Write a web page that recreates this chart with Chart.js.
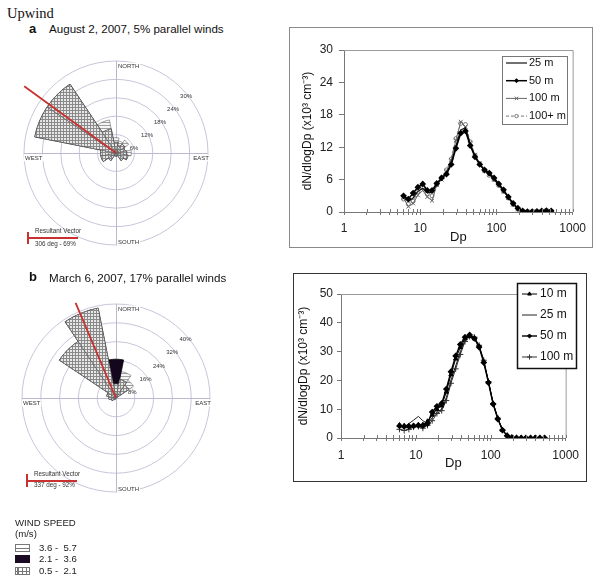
<!DOCTYPE html>
<html lang="en">
<head>
<meta charset="UTF-8" />
<title>Upwind</title>
<script src="https://cdn.jsdelivr.net/npm/chart.js"></script>
<style>
  body { margin: 0; background: #fff; font-family: Arial, "Liberation Sans", sans-serif; }
  #page { position: relative; width: 600px; height: 580px; overflow: hidden; }
  .abs { position: absolute; white-space: nowrap; color: #111; }
  #upwind { left: 7px; top: 5px; font: 14.5px/16px "Times New Roman", "Liberation Serif", serif; }
  .plabel { font-weight: bold; font-size: 13px; line-height: 16px; }
  .ptitle { font-size: 11.6px; line-height: 14px; }
  .rv { font-size: 6.3px; line-height: 8px; color: #333; }
  .rvline { height: 2px; background: #c8312f; }
  .rvtick { width: 2px; background: #c8312f; }
  .ws { font-size: 9.6px; line-height: 11px; color: #222; }
  .sw { width: 13px; height: 6px; border: 1px solid #777; }
  .sw.lines { background: linear-gradient(#777, #777) center / 100% 1px no-repeat, #fff; }
  .sw.dark { background: #1b0a24; border-color: #1b0a24; }
  .sw.grid {
    background-color: #fff;
    background-image: repeating-linear-gradient(90deg, #777 0 1px, transparent 1px 4px), linear-gradient(#777, #777);
    background-size: auto, 100% 1px;
    background-position: 2px 0, center;
    background-repeat: repeat, no-repeat;
  }
  .box { position: absolute; }
  canvas { position: absolute; }
</style>
</head>
<body>
<div id="page">
  <div class="abs" id="upwind">Upwind</div>

  <div class="abs plabel" style="left:29px;top:21px">a</div>
  <div class="abs ptitle" style="left:49px;top:22px">August 2, 2007, 5% parallel winds</div>
  <canvas id="roseA" width="240" height="210" style="left:0;top:50px"></canvas>
  <div class="abs rv" style="left:35px;top:227px">Resultant Vector</div>
  <div class="abs rvline" style="left:28px;top:237px;width:50px"></div>
  <div class="abs rvtick" style="left:27px;top:232px;height:12px"></div>
  <div class="abs rv" style="left:35px;top:240px">306 deg - 69%</div>

  <div class="abs plabel" style="left:29px;top:269px">b</div>
  <div class="abs ptitle" style="left:49px;top:271px">March 6, 2007, 17% parallel winds</div>
  <canvas id="roseB" width="240" height="200" style="left:0;top:295px"></canvas>
  <div class="abs rv" style="left:34px;top:470px">Resultant Vector</div>
  <div class="abs rvline" style="left:27px;top:480px;width:50px"></div>
  <div class="abs rvtick" style="left:26px;top:474px;height:13px"></div>
  <div class="abs rv" style="left:34px;top:481px">337 deg - 92%</div>

  <div class="abs ws" style="left:15px;top:517px">WIND SPEED</div>
  <div class="abs ws" style="left:15px;top:528px">(m/s)</div>
  <div class="abs sw lines" style="left:15px;top:544px"></div>
  <div class="abs ws" style="left:39px;top:542px">3.6 -&nbsp; 5.7</div>
  <div class="abs sw dark" style="left:15px;top:555px"></div>
  <div class="abs ws" style="left:39px;top:553px">2.1 -&nbsp; 3.6</div>
  <div class="abs sw grid" style="left:15px;top:567px"></div>
  <div class="abs ws" style="left:39px;top:565px">0.5 -&nbsp; 2.1</div>

  <div class="box" style="left:289px;top:27px;width:302px;height:219px;border:1px solid #8a8a8a">
    <canvas id="distA" width="302" height="219" style="left:0;top:0"></canvas>
  </div>
  <div class="box" style="left:293px;top:273px;width:292px;height:207px;border:1px solid #333">
    <canvas id="distB" width="292" height="207" style="left:0;top:0"></canvas>
  </div>
</div>

<script>
  // wind directions, clockwise from north
  const directions = ["N", "NNE", "NE", "ENE", "E", "ESE", "SE", "SSE", "S", "SSW", "SW", "WSW", "W", "WNW", "NW", "NNW"];

  // rose a (% per speed class)
  const roseA_low  = [3.5, 2.5, 3.5, 3, 3.5, 4, 3, 1, 1, 1, 3, 5, 5, 27, 27, 8];
  const roseA_mid  = [0, 0, 0, 0, 0, 0, 0, 0, 0, 0, 0, 0, 0, 0, 0, 0];
  const roseA_high = [1.5, 1.5, 1.5, 0, 1.5, 0, 0, 0, 0, 0, 0, 0, 0, 0, 0, 3];
  const roseA_rings = [6, 12, 18, 24, 30];
  const roseA_vector = 306;

  // rose b (% per speed class)
  const roseB_low  = [6, 8, 6.5, 0, 0, 0, 0, 0, 0, 0, 1, 2, 3, 4, 29, 39];
  const roseB_mid  = [10.5, 0, 0, 0, 0, 0, 0, 0, 0, 0, 0, 0, 0, 0, 0, 0];
  const roseB_high = [0, 3.5, 2.5, 0, 0, 0, 0, 0, 0, 0, 0, 0, 0, 0, 0, 0];
  const roseB_rings = [8, 16, 24, 32, 40];
  const roseB_vector = 337;

  // size distributions
  const dpBins = [6.04, 6.98, 8.06, 9.31, 10.8, 12.4, 14.3, 16.5, 19.1, 22.1, 25.5, 29.4, 34.0, 39.2, 45.3, 52.3,
                  60.4, 69.8, 80.6, 93.1, 107.5, 124.1, 143.3, 165.5, 191.1, 220.7, 254.8, 294.3, 339.8, 392.4, 453.1, 523.3];

  const a25  = [2.8, 2.0, 2.6, 3.8, 4.4, 3.6, 3.6, 5.2, 6.2, 7.2, 9.0, 12.2, 15.2, 15.6, 12.5, 10.4,
                8.9, 7.7, 7.0, 6.1, 5.0, 3.9, 2.7, 1.5, 0.6, 0.2, 0.1, 0.05, 0.1, 0.15, 0.2, 0.2];
  const a50  = [3.0, 2.4, 3.5, 4.6, 5.2, 4.0, 4.0, 5.3, 6.3, 7.0, 8.8, 11.8, 14.6, 15.0, 12.3, 10.2,
                8.8, 7.8, 7.2, 6.3, 5.2, 4.1, 2.8, 1.6, 0.7, 0.2, 0.05, 0.05, 0.1, 0.2, 0.25, 0.2];
  const a100 = [2.6, 1.0, 1.6, 3.1, 4.0, 2.8, 2.1, 5.0, 6.0, 7.6, 9.6, 13.3, 16.7, 15.8, 12.8, 10.6,
                9.0, 7.7, 6.9, 6.0, 5.0, 3.8, 2.6, 1.4, 0.5, 0.15, 0.05, 0.05, 0.1, 0.1, 0.2, 0.15];
  const a100p = [2.4, 1.5, 2.0, 3.8, 4.5, 3.4, 3.0, 5.1, 6.4, 7.8, 9.8, 13.6, 16.4, 16.2, 13.0, 10.5,
                 8.9, 7.6, 6.8, 6.0, 4.9, 3.8, 2.6, 1.4, 0.5, 0.1, 0.05, 0.05, 0.1, 0.15, 0.2, 0.15];

  const b10  = [4.5, 4.2, 4.0, 4.3, 4.5, 4.6, 5.8, 8.0, 10.0, 11.2, 16.0, 22.0, 27.5, 31.5, 34.5, 35.3,
                34.5, 31.8, 26.5, 19.5, 12.0, 6.8, 2.8, 0.8, 0.2, 0.05, 0, 0, 0, 0, 0, 0];
  const b25  = [4.0, 3.8, 5.0, 6.2, 7.5, 6.0, 5.0, 7.0, 9.0, 10.0, 14.0, 20.0, 25.0, 30.0, 34.0, 35.5,
                34.8, 32.0, 26.8, 19.8, 12.2, 7.0, 2.9, 0.9, 0.2, 0.05, 0, 0, 0, 0, 0, 0];
  const b50  = [4.2, 4.0, 4.1, 4.2, 4.4, 4.3, 5.0, 9.0, 11.0, 12.0, 17.0, 23.0, 28.5, 32.5, 35.0, 35.8,
                34.6, 31.6, 26.2, 19.2, 11.8, 6.6, 2.7, 0.8, 0.15, 0.05, 0, 0, 0, 0, 0, 0];
  const b100 = [3.0, 2.6, 3.0, 3.8, 4.0, 3.4, 4.4, 6.0, 8.5, 9.5, 13.0, 19.0, 24.0, 29.0, 33.5, 35.2,
                35.0, 32.2, 27.0, 19.6, 12.0, 6.9, 2.8, 0.8, 0.2, 0.05, 0, 0, 0, 0, 0, 0];

  const xMajor = [1, 10, 100, 1000];
  const yTicksA = [0, 6, 12, 18, 24, 30];
  const yTicksB = [0, 10, 20, 30, 40, 50];

  Chart.defaults.font.family = 'Arial, "Liberation Sans", sans-serif';
  Chart.defaults.color = "#222";

  // hatch fills for the wind speed classes
  function hatch(kind) {
    const c = document.createElement("canvas");
    c.width = 3;
    c.height = 3;
    const g = c.getContext("2d");
    g.fillStyle = kind === "grid" ? "#e8e8e8" : "#f6f6f6";
    g.fillRect(0, 0, 3, 3);
    g.fillStyle = kind === "grid" ? "#8a8a8a" : "#a0a0a0";
    g.fillRect(0, 0, 3, 1);
    if (kind === "grid") g.fillRect(0, 0, 1, 3);
    return g.createPattern(c, "repeat");
  }
  const patGrid = hatch("grid");
  const patLines = hatch("lines");

  // crosshair, compass words, ring labels and resultant vector
  const roseDecor = {
    id: "roseDecor",
    beforeDatasetsDraw(chart) {
      const s = chart.scales.r, ctx = chart.ctx, R = s.drawingArea;
      ctx.save();
      ctx.strokeStyle = "#b9b9d3";
      ctx.lineWidth = 1;
      ctx.beginPath();
      ctx.moveTo(s.xCenter + 0.5, s.yCenter - R);
      ctx.lineTo(s.xCenter + 0.5, s.yCenter + R);
      ctx.moveTo(s.xCenter - R, s.yCenter + 0.5);
      ctx.lineTo(s.xCenter + R, s.yCenter + 0.5);
      ctx.stroke();
      ctx.restore();
    },
    afterDatasetsDraw(chart, args, opts) {
      const s = chart.scales.r, ctx = chart.ctx, R = s.drawingArea;
      const cx = s.xCenter, cy = s.yCenter;
      ctx.save();

      // resultant vector
      const th = opts.vector * Math.PI / 180;
      const len = s.getDistanceFromCenterForValue(opts.reach);
      ctx.strokeStyle = "#c8312f";
      ctx.lineWidth = 1.8;
      ctx.beginPath();
      ctx.moveTo(cx, cy);
      ctx.lineTo(cx + len * Math.sin(th), cy - len * Math.cos(th));
      ctx.stroke();

      ctx.font = "6px Arial, 'Liberation Sans', sans-serif";
      ctx.textBaseline = "middle";

      // ring labels along the NE diagonal
      ctx.fillStyle = "#333";
      ctx.textAlign = "center";
      opts.rings.forEach((v) => {
        const r = s.getDistanceFromCenterForValue(v);
        ctx.fillText(v + "%", cx + r * Math.SQRT1_2 + opts.dx, cy - r * Math.SQRT1_2 + opts.dy);
      });

      // compass words
      const word = (t, x, y, align) => {
        ctx.textAlign = align;
        const w = ctx.measureText(t).width;
        const x0 = align === "right" ? x - w : x;
        ctx.fillStyle = "#fff";
        ctx.fillRect(x0 - 1, y - 3.5, w + 2, 7);
        ctx.fillStyle = "#333";
        ctx.fillText(t, x, y);
      };
      word("NORTH", cx + 2, cy - R + 5, "left");
      word("SOUTH", cx + 2, cy + R - 3, "left");
      word("WEST", cx - R + 1, cy + 5, "left");
      word("EAST", cx + R + 1, cy + 5, "right");
      ctx.restore();
    }
  };

  function stack(low, mid, high) {
    const c1 = low.slice();
    const c2 = c1.map((v, i) => v + mid[i]);
    const c3 = c2.map((v, i) => v + high[i]);
    return [c1, c2, c3];
  }

  function rose(id, low, mid, high, max, step, padding, decor) {
    const [c1, c2, c3] = stack(low, mid, high);
    return new Chart(document.getElementById(id), {
      type: "polarArea",
      data: {
        labels: directions,
        datasets: [
          { label: "0.5 - 2.1", data: c1, backgroundColor: patGrid, borderColor: "#666", borderWidth: 0.6 },
          { label: "2.1 - 3.6", data: c2, backgroundColor: "#14061c", borderColor: "#000", borderWidth: 0.6 },
          { label: "3.6 - 5.7", data: c3, backgroundColor: patLines, borderColor: "#666", borderWidth: 0.6 }
        ]
      },
      options: {
        responsive: false,
        animation: false,
        layout: { padding },
        plugins: { legend: { display: false }, tooltip: { enabled: false }, roseDecor: decor },
        scales: {
          r: {
            min: 0,
            max: max,
            startAngle: -11.25,
            ticks: { display: false, stepSize: step },
            grid: { color: "#c6c6da", lineWidth: 1 },
            angleLines: { display: false },
            pointLabels: { display: false }
          }
        }
      },
      plugins: [roseDecor]
    });
  }

  rose("roseA", roseA_low, roseA_mid, roseA_high, 30, 6,
       { left: 24, top: 11, right: 32, bottom: 15 },
       { vector: roseA_vector, reach: 37, rings: roseA_rings, dx: 5, dy: 8 });
  rose("roseB", roseB_low, roseB_mid, roseB_high, 40, 8,
       { left: 22, top: 9, right: 30, bottom: 3 },
       { vector: roseB_vector, reach: 44, rings: roseB_rings, dx: 3, dy: 8 });

  // plot frame, crossing x ticks and boxed legend
  const plotFrame = {
    id: "plotFrame",
    afterDraw(chart, args, opts) {
      const { ctx, chartArea: a } = chart;
      const xs = chart.scales.x;
      ctx.save();
      ctx.strokeStyle = "#9a9a9a";
      ctx.lineWidth = 1;
      ctx.beginPath();
      ctx.moveTo(a.left, a.top + 0.5);
      ctx.lineTo(a.right + 0.5, a.top + 0.5);
      ctx.lineTo(a.right + 0.5, a.bottom);
      ctx.stroke();

      ctx.strokeStyle = "#777";
      ctx.beginPath();
      xs.ticks.forEach((t) => {
        const px = Math.round(xs.getPixelForValue(t.value)) + 0.5;
        ctx.moveTo(px, a.bottom - 3);
        ctx.lineTo(px, a.bottom);
      });
      ctx.stroke();

      const L = opts.legend;
      ctx.fillStyle = "#fff";
      ctx.fillRect(L.x, L.y, L.w, L.h);
      ctx.strokeStyle = L.border;
      ctx.lineWidth = L.borderWidth;
      ctx.strokeRect(L.x + 0.5, L.y + 0.5, L.w, L.h);
      chart.data.datasets.forEach((ds, i) => {
        const y = L.y + L.first + i * L.row;
        ctx.strokeStyle = ds.borderColor;
        ctx.lineWidth = ds.borderWidth;
        ctx.setLineDash(ds.borderDash || []);
        ctx.beginPath();
        ctx.moveTo(L.x + L.from, y);
        ctx.lineTo(L.x + L.to, y);
        ctx.stroke();
        ctx.setLineDash([]);
        if (ds.pointRadius > 0) {
          ctx.fillStyle = ds.pointBackgroundColor;
          ctx.strokeStyle = ds.pointBorderColor;
          ctx.lineWidth = 1;
          Chart.helpers.drawPoint(ctx, { pointStyle: ds.pointStyle, radius: ds.pointRadius * 0.85, rotation: 0, borderWidth: 1 },
            L.x + (L.from + L.to) / 2, y);
        }
        ctx.fillStyle = "#111";
        ctx.font = L.font;
        ctx.textAlign = "left";
        ctx.textBaseline = "middle";
        ctx.fillText(ds.label, L.x + L.text, y);
      });
      ctx.restore();
    }
  };

  const xTickVals = [];
  [1, 10, 100].forEach((d) => { for (let k = 1; k < 10; k++) xTickVals.push(d * k); });
  xTickVals.push(1000);

  const pts = (ys) => dpBins.map((x, i) => ({ x: x, y: ys[i] }));

  function dist(id, datasets, c) {
    return new Chart(document.getElementById(id), {
      type: "line",
      data: { datasets },
      options: {
        responsive: false,
        animation: false,
        layout: { padding: c.padding },
        plugins: { legend: { display: false }, tooltip: { enabled: false }, plotFrame: { legend: c.legend } },
        elements: { line: { tension: 0 } },
        scales: {
          x: {
            type: "logarithmic",
            min: 1,
            max: 1000,
            afterBuildTicks: (s) => { s.ticks = xTickVals.map((v) => ({ value: v })); },
            afterFit: (s) => { s.height = c.xHeight; },
            ticks: {
              autoSkip: false, maxRotation: 0, padding: c.xPad, color: "#222", font: { size: 12 },
              callback: (v) => (xMajor.includes(v) ? String(v) : "")
            },
            grid: { drawOnChartArea: false, tickLength: 3, color: "#777" },
            border: { color: "#777" },
            title: { display: true, text: "Dp", color: "#111", font: { size: 13 }, padding: { top: 0, bottom: c.xTitlePad } }
          },
          y: {
            min: 0,
            max: c.yTicks[c.yTicks.length - 1],
            afterBuildTicks: (s) => { s.ticks = c.yTicks.map((v) => ({ value: v })); },
            afterFit: (s) => { s.width = c.yWidth; },
            ticks: { padding: c.yPad, color: "#222", font: { size: 12 } },
            grid: { drawOnChartArea: false, tickLength: c.yTickLen, color: "#777" },
            border: { color: "#777" },
            title: {
              display: true, text: "dN/dlogDp (x10³ cm⁻³)", color: "#111", font: { size: 12 },
              padding: { top: c.yTitlePad, bottom: 0 }
            }
          }
        }
      },
      plugins: [plotFrame]
    });
  }

  dist("distA", [
    { label: "25 m", data: pts(a25), borderColor: "#111", borderWidth: 1.2, pointRadius: 0, order: 1 },
    { label: "50 m", data: pts(a50), borderColor: "#000", borderWidth: 1.5, pointStyle: "rectRot", pointRadius: 2.3,
      pointBackgroundColor: "#000", pointBorderColor: "#000", order: 0 },
    { label: "100 m", data: pts(a100), borderColor: "#666", borderWidth: 1, pointStyle: "crossRot", pointRadius: 2.8,
      pointBackgroundColor: "#666", pointBorderColor: "#666", order: 2 },
    { label: "100+ m", data: pts(a100p), borderColor: "#777", borderWidth: 1, borderDash: [3, 2], pointStyle: "circle",
      pointRadius: 2, pointBackgroundColor: "#fff", pointBorderColor: "#777", order: 3 }
  ], {
    padding: { left: 0, top: 22, right: 18, bottom: 0 },
    yWidth: 54, xHeight: 35, xPad: 6, yPad: 6, yTickLen: 5, xTitlePad: 2, yTitlePad: 10,
    yTicks: yTicksA,
    legend: { x: 212, y: 28, w: 65, h: 68, first: 7, row: 17.7, from: 4, to: 25, text: 27,
              border: "#777", borderWidth: 1, font: "11px Arial, 'Liberation Sans', sans-serif" }
  });

  dist("distB", [
    { label: "10 m", data: pts(b10), borderColor: "#000", borderWidth: 1, pointStyle: "triangle", pointRadius: 2.5,
      pointBackgroundColor: "#000", pointBorderColor: "#000", order: 1 },
    { label: "25 m", data: pts(b25), borderColor: "#222", borderWidth: 1, pointRadius: 0, order: 2 },
    { label: "50 m", data: pts(b50), borderColor: "#000", borderWidth: 1.4, pointStyle: "rectRot", pointRadius: 2.4,
      pointBackgroundColor: "#000", pointBorderColor: "#000", order: 0 },
    { label: "100 m", data: pts(b100), borderColor: "#333", borderWidth: 1, pointStyle: "cross", pointRadius: 3,
      pointBackgroundColor: "#333", pointBorderColor: "#333", order: 3 }
  ], {
    padding: { left: 0, top: 20, right: 12, bottom: 0 },
    yWidth: 47, xHeight: 43, xPad: 7, yPad: 4, yTickLen: 4, xTitlePad: 10, yTitlePad: 2,
    yTicks: yTicksB,
    legend: { x: 223, y: 9, w: 59, h: 85, first: 11, row: 21, from: 5, to: 20, text: 23,
              border: "#111", borderWidth: 1.5, font: "12px Arial, 'Liberation Sans', sans-serif" }
  });
</script>
</body>
</html>
